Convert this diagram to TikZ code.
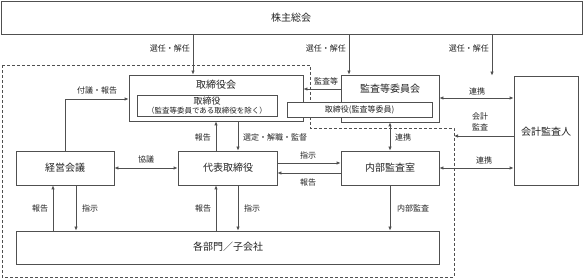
\documentclass[tikz,border=0pt]{standalone}
\usepackage{fontspec}
\setmainfont{Noto Sans CJK JP}
\usetikzlibrary{arrows.meta}
\definecolor{linec}{HTML}{505050}
\definecolor{textc}{HTML}{222222}
\begin{document}
\begin{tikzpicture}[x=1pt,y=-1pt,
  box/.style={draw=linec,line width=0.8pt,fill=white,inner sep=0pt},
  txt/.style={inner sep=0pt,text=textc,font=\fontsize{10}{12}\selectfont},
  lbl/.style={inner sep=0pt,text=textc,font=\fontsize{8}{11}\selectfont},
  arr/.style={draw=linec,line width=0.8pt,-{Latex[length=4pt,width=3.5pt]}},
  darr/.style={draw=linec,line width=0.8pt,{Latex[length=4pt,width=3.5pt]}-{Latex[length=4pt,width=3.5pt]}},
  bound/.style={draw=linec,line width=0.8pt,dash pattern=on 3pt off 2pt}]
\useasboundingbox (0,0) rectangle (583,280);

% dashed boundary
\draw[bound] (2,65) -- (310,65) -- (310,128) -- (454,128) -- (454,277) -- (2,277) -- cycle;

% boxes
\node[box,minimum width=581pt,minimum height=33pt] (sh) at (291.5,17.5) {};
\node[box,minimum width=174pt,minimum height=46pt] (bod) at (216,98) {};
\node[box,minimum width=140pt,minimum height=21pt] (dir) at (207,105.5) {};
\node[box,minimum width=98pt,minimum height=47pt] (ac) at (390,98.5) {};
\node[box,minimum width=145pt,minimum height=15pt] (acd) at (359.5,109.5) {};
\node[box,minimum width=64pt,minimum height=109pt] (aud) at (546,130.5) {};
\node[box,minimum width=98pt,minimum height=34pt] (ia) at (390,168) {};
\node[box,minimum width=99pt,minimum height=34pt] (rep) at (227.5,168) {};
\node[box,minimum width=98pt,minimum height=34pt] (mgmt) at (65,168) {};
\node[box,minimum width=423pt,minimum height=33pt] (dept) at (227.5,247.5) {};

% box texts
\node[txt] (tsh) at (291,18) {株主総会};
\node[txt] (tbod) at (216,85) {取締役会};
\node[txt,font=\fontsize{9}{10}\selectfont] (tdir) at (207,101) {取締役};
\node[txt,font=\fontsize{7.5}{9}\selectfont] (tdir2) at (207,111) {（監査等委員である取締役を除く）};
\node[txt] (tac) at (390,89) {監査等委員会};
\node[txt,font=\fontsize{8}{10}\selectfont] (tacd) at (359.5,109.5) {取締役(監査等委員)};
\node[txt] (taud) at (546,132) {会計監査人};
\node[txt] (tia) at (390,168) {内部監査室};
\node[txt] (trep) at (228,168) {代表取締役};
\node[txt] (tmgmt) at (65,168) {経営会議};
\node[txt] (tdept) at (228,247) {各部門／子会社};

% coordinates for vertical connector positions
\coordinate (v1) at (193,0);
\coordinate (v2) at (349,0);
\coordinate (v3) at (492,0);
\coordinate (vu) at (65,99);
\coordinate (vr) at (216,0);
\coordinate (vs) at (238,0);
\coordinate (vm1) at (53,0);
\coordinate (vm2) at (76,0);
\coordinate (hka) at (0,89);
\coordinate (hren) at (0,98);
\coordinate (hkk) at (0,136);
\coordinate (dashR) at (454,136);
\coordinate (hsj) at (0,163);
\coordinate (hhk) at (0,173);

% top arrows
\draw[arr] (v1 |- sh.south) -- (v1 |- bod.north);
\draw[arr] (v2 |- sh.south) -- (v2 |- ac.north);
\draw[arr] (v3 |- sh.south) -- (v3 |- aud.north);
\node[lbl,anchor=east] (l1) at (190,48) {選任・解任};
\node[lbl,anchor=east] (l2) at (346,48) {選任・解任};
\node[lbl,anchor=east] (l3) at (489,48) {選任・解任};

% 監査等
\draw[arr] (ac.west |- hka) -- (bod.east |- hka);
\node[lbl] (lka) at (326,81) {監査等};

% 連携 (ac - aud)
\draw[darr] (ac.east |- hren) -- (aud.west |- hren);
\node[lbl] (lren1) at (477,91) {連携};

% 会計監査
\draw[arr] (aud.west |- hkk) -- (dashR);
\node[lbl,align=center] (lkk) at (480,122) {会計\\監査};

% 連携 (ia - aud)
\draw[darr] (ia.east) -- (aud.west |- ia.east);
\node[lbl] (lren2) at (484,160) {連携};

% 連携 vertical (ac - ia)
\draw[darr] (ac.south) -- (ia.north);
\node[lbl,anchor=west] (lren3) at (395,137) {連携};

% 付議・報告
\draw[arr] (mgmt.north -| vu) -- (vu) -- (bod.west |- vu);
\node[lbl] (lfg) at (97,90) {付議・報告};

% 報告 (rep -> bod)
\draw[arr] (vr |- rep.north) -- (vr |- bod.south);
\node[lbl,anchor=east] (lhk1) at (211,137) {報告};
% 選定・解職・監督
\draw[arr] (vs |- bod.south) -- (vs |- rep.north);
\node[lbl,anchor=west] (lsk) at (243,137) {選定・解職・監督};

% 協議
\draw[darr] (mgmt.east) -- (rep.west);
\node[lbl] (lkg) at (146,159) {協議};

% 指示 / 報告 (rep - ia)
\draw[arr] (rep.east |- hsj) -- (ia.west |- hsj);
\node[lbl] (lsj1) at (308,155) {指示};
\draw[arr] (ia.west |- hhk) -- (rep.east |- hhk);
\node[lbl] (lhk2) at (308,182) {報告};

% mgmt - dept
\draw[arr] (vm1 |- dept.north) -- (vm1 |- mgmt.south);
\node[lbl] (lhk3) at (40,208) {報告};
\draw[arr] (vm2 |- mgmt.south) -- (vm2 |- dept.north);
\node[lbl] (lsj2) at (90,208) {指示};

% rep - dept
\draw[arr] (vr |- dept.north) -- (vr |- rep.south);
\node[lbl] (lhk4) at (203,208) {報告};
\draw[arr] (vs |- rep.south) -- (vs |- dept.north);
\node[lbl] (lsj3) at (252,208) {指示};

% ia - dept
\draw[arr] (ia.south) -- (ia.south |- dept.north);
\node[lbl] (lnb) at (413,208) {内部監査};
\end{tikzpicture}
\end{document}
